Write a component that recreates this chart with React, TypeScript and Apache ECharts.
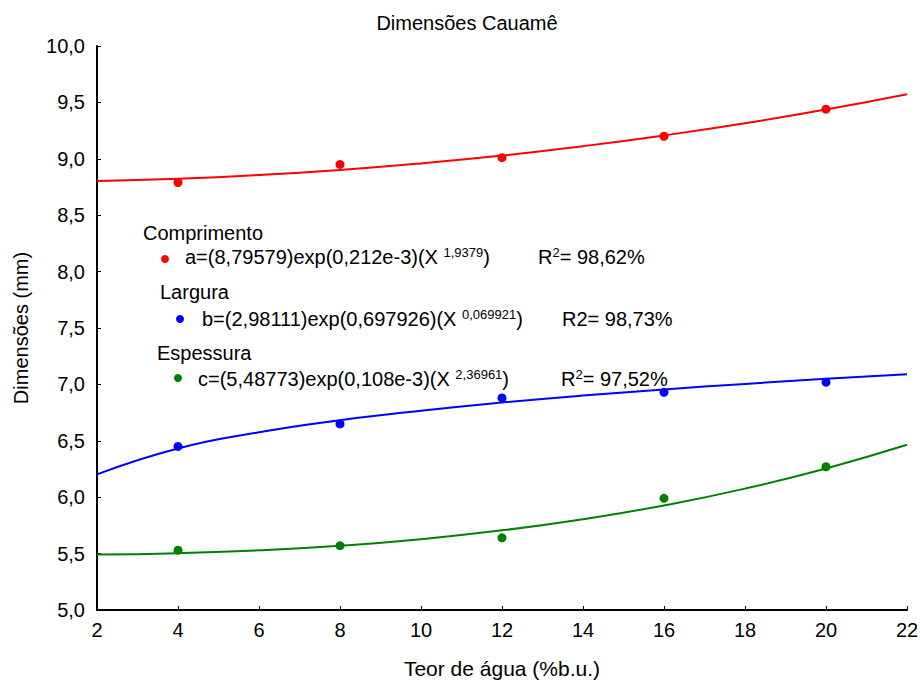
import React, { useEffect, useRef } from "react";
import * as echarts from "echarts";

const xPoints = [4, 8, 12, 16, 20];
const comprimento = [8.79, 8.95, 9.01, 9.2, 9.44];
const largura = [6.45, 6.65, 6.88, 6.93, 7.02];
const espessura = [5.53, 5.57, 5.64, 5.99, 6.27];

const xCurve = [2, 4, 6, 8, 10, 12, 14, 16, 18, 20, 22];
const curveComprimento = [8.803, 8.823, 8.856, 8.901, 8.959, 9.029, 9.112, 9.207, 9.315, 9.437, 9.573];
const curveLargura = [6.202, 6.432, 6.575, 6.682, 6.767, 6.839, 6.901, 6.955, 7.004, 7.049, 7.089];
const curveEspessura = [5.491, 5.504, 5.529, 5.57, 5.628, 5.706, 5.805, 5.927, 6.076, 6.255, 6.465];

const yTicks = ["5,0", "5,5", "6,0", "6,5", "7,0", "7,5", "8,0", "8,5", "9,0", "9,5", "10,0"];

const RED = "#ff0000";
const BLUE = "#0000ff";
const GREEN = "#008000";
const FONT = "Liberation Sans, Arial, sans-serif";

const pairs = (xs: number[], ys: number[]) => xs.map((x, i) => [x, ys[i]]);

export default function App() {
  const ref = useRef<HTMLDivElement>(null);
  useEffect(() => {
    if (!ref.current) return;
    const chart = echarts.init(ref.current, undefined, { renderer: "svg" });
    const rich = {
      n: { fontSize: 20, fontFamily: FONT, color: "#000", verticalAlign: "bottom", lineHeight: 21 },
      s: { fontSize: 13, fontFamily: FONT, color: "#000", verticalAlign: "top", lineHeight: 21 },
    };
    const legendBlock = (
      title: string,
      tx: number,
      ty: number,
      color: string,
      dx: number,
      dy: number,
      ex: number,
      ey: number,
      eqPre: string,
      eqSup: string,
      rText: string,
      rx: number
    ) => [
      { type: "text", x: tx, y: ty, style: { text: title, font: `20px ${FONT}`, fill: "#000", verticalAlign: "middle" } },
      { type: "circle", shape: { cx: dx, cy: dy, r: 4 }, style: { fill: color } },
      {
        type: "text",
        x: ex,
        y: ey,
        style: { text: `{n|${eqPre}}{s|${eqSup}}{n|)}`, rich, verticalAlign: "middle" },
      },
      {
        type: "text",
        x: rx,
        y: ey,
        style: { text: rText, rich, verticalAlign: "middle" },
      },
    ];
    chart.setOption({
      animation: false,
      backgroundColor: "#fff",
      title: {
        text: "Dimensões Cauamê",
        left: 462,
        top: 8,
        textAlign: "center",
        textStyle: { fontFamily: FONT, fontSize: 20, fontWeight: "normal", color: "#000" },
      },
      grid: { left: 97, right: 13, top: 46, bottom: 73, containLabel: false, outerBoundsMode: "none" },
      xAxis: {
        type: "value",
        min: 2,
        max: 22,
        interval: 2,
        name: "Teor de água (%b.u.)",
        nameLocation: "middle",
        nameGap: 48,
        nameTextStyle: { fontFamily: FONT, fontSize: 21, color: "#000" },
        axisLine: { lineStyle: { color: "#000", width: 2 } },
        axisTick: { inside: true, length: 4, lineStyle: { color: "#000", width: 1 } },
        axisLabel: { fontFamily: FONT, fontSize: 20, color: "#000", margin: 10 },
        splitLine: { show: false },
      },
      yAxis: {
        type: "value",
        min: 5,
        max: 10,
        interval: 0.5,
        name: "Dimensões (mm)",
        nameLocation: "middle",
        nameGap: 66,
        nameTextStyle: { fontFamily: FONT, fontSize: 20, color: "#000" },
        axisLine: { show: true, lineStyle: { color: "#000", width: 2 } },
        axisTick: { show: true, inside: true, length: 4, lineStyle: { color: "#000", width: 1 } },
        axisLabel: {
          fontFamily: FONT,
          fontSize: 20,
          color: "#000",
          margin: 12,
          formatter: (v: number) => yTicks[Math.round((v - 5) / 0.5)] ?? "",
        },
        splitLine: { show: false },
      },
      series: [
        { type: "line", data: pairs(xCurve, curveComprimento), smooth: 0.5, symbol: "none", lineStyle: { color: RED, width: 2 }, z: 2 },
        { type: "line", data: pairs(xCurve, curveLargura), smooth: 0.5, symbol: "none", lineStyle: { color: BLUE, width: 2 }, z: 2 },
        { type: "line", data: pairs(xCurve, curveEspessura), smooth: 0.5, symbol: "none", lineStyle: { color: GREEN, width: 2 }, z: 2 },
        { type: "scatter", data: pairs(xPoints, comprimento), symbolSize: 9, itemStyle: { color: RED, opacity: 1 }, z: 3 },
        { type: "scatter", data: pairs(xPoints, largura), symbolSize: 9, itemStyle: { color: BLUE, opacity: 1 }, z: 3 },
        { type: "scatter", data: pairs(xPoints, espessura), symbolSize: 9, itemStyle: { color: GREEN, opacity: 1 }, z: 3 },
      ],
      graphic: [
        ...legendBlock("Comprimento", 143, 233, RED, 165, 259, 185, 256, "a=(8,79579)exp(0,212e-3)(X ", "1,9379", "{n|R}{s|2}{n|= 98,62%}", 538),
        ...legendBlock("Largura", 160, 292, BLUE, 180, 319, 202, 318, "b=(2,98111)exp(0,697926)(X ", "0,069921", "{n|R2= 98,73%}", 562),
        ...legendBlock("Espessura", 157, 353, GREEN, 178, 378, 198, 378, "c=(5,48773)exp(0,108e-3)(X ", "2,36961", "{n|R}{s|2}{n|= 97,52%}", 561),
      ],
    });
    return () => chart.dispose();
  }, []);
  return <div ref={ref} style={{ width: 920, height: 683, position: "absolute", left: 0, top: 0 }} />;
}
